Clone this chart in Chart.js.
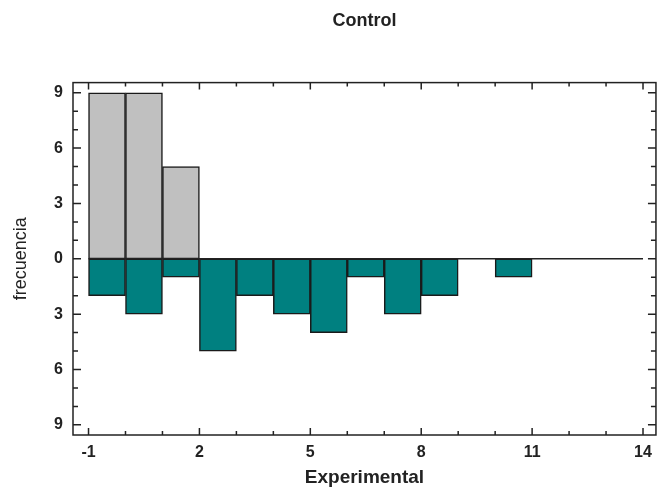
<!DOCTYPE html>
<html>
<head>
<meta charset="utf-8">
<script src="https://cdn.jsdelivr.net/npm/chart.js@4.4.0/dist/chart.umd.min.js"></script>
<style>
  body { margin: 0; background: #fff; }
  #wrap { width: 660px; height: 489px; }
</style>
</head>
<body>
<div id="wrap"><canvas id="myChart"></canvas></div>
<script>
// Histograma de dos lados: Control arriba, Experimental abajo
var binStarts = [-1, 0, 1, 2, 3, 4, 5, 6, 7, 8, 9, 10, 11, 12, 13];
var control = [9, 9, 5, 0, 0, 0, 0, 0, 0, 0, 0, 0, 0, 0, 0];
var experimental = [2, 3, 1, 5, 2, 3, 4, 1, 3, 2, 0, 1, 0, 0, 0];
var xTicks = [-1, 2, 5, 8, 11, 14];
var yTicks = [-9, -6, -3, 0, 3, 6, 9];

var FONT = 'Liberation Sans, Arial, sans-serif';
var binWidth = 1;

// puntos centrados en cada clase
var controlData = binStarts.map(function(b, i) { return { x: b + binWidth / 2, y: control[i] }; });
var expData = binStarts.map(function(b, i) { return { x: b + binWidth / 2, y: -experimental[i] }; });
var lastEdge = binStarts[binStarts.length - 1] + binWidth;
var baseline = [{ x: binStarts[0], y: 0 }, { x: lastEdge, y: 0 }];

// marco y marcas hacia dentro
var frameTicks = {
  id: 'frameTicks',
  afterDatasetsDraw: function(chart) {
    var ctx = chart.ctx, a = chart.chartArea, x = chart.scales.x, y = chart.scales.y;
    ctx.save();
    ctx.strokeStyle = '#222';
    ctx.lineWidth = 1.5;
    ctx.strokeRect(a.left, a.top, a.right - a.left, a.bottom - a.top);
    ctx.beginPath();
    for (var v = -9; v <= 9; v++) {
      var py = y.getPixelForValue(v);
      var len = v % 3 === 0 ? 8 : 5;
      ctx.moveTo(a.left, py); ctx.lineTo(a.left + len, py);
      ctx.moveTo(a.right, py); ctx.lineTo(a.right - len, py);
    }
    for (var u = -1; u <= 14; u++) {
      var px = x.getPixelForValue(u);
      var l2 = (u + 1) % 3 === 0 ? 7 : 4;
      ctx.moveTo(px, a.bottom); ctx.lineTo(px, a.bottom - l2);
      ctx.moveTo(px, a.top); ctx.lineTo(px, a.top + l2);
    }
    ctx.stroke();
    ctx.restore();
  }
};

var ctx = document.getElementById('myChart').getContext('2d');
var chart = new Chart(ctx, {
  type: 'bar',
  data: {
    datasets: [{
      type: 'line',
      label: 'base',
      data: baseline,
      borderColor: '#222',
      borderWidth: 1.5,
      pointRadius: 0
    }, {
      label: 'Control',
      data: controlData,
      backgroundColor: '#c0c0c0',
      borderColor: '#1a1a1a',
      borderWidth: 1.5,
      borderSkipped: false,
      barPercentage: 1,
      categoryPercentage: 1
    }, {
      label: 'Experimental',
      data: expData,
      backgroundColor: '#008080',
      borderColor: '#1a1a1a',
      borderWidth: 1.5,
      borderSkipped: false,
      barPercentage: 1,
      categoryPercentage: 1
    }]
  },
  options: {
    responsive: true,
    maintainAspectRatio: false,
    animation: false,
    layout: { padding: { left: 0, right: 2, top: 0, bottom: 0 } },
    plugins: {
      legend: { display: false },
      tooltip: { enabled: false },
      title: {
        display: true,
        text: 'Control',
        fullSize: false,
        color: '#222',
        font: { family: FONT, size: 18, weight: 'bold' },
        padding: { top: 10, bottom: 51 }
      }
    },
    scales: {
      x: {
        type: 'linear',
        min: -1.42,
        max: 14.35,
        offset: false,
        stacked: true,
        grid: { display: false, drawTicks: false },
        border: { display: false },
        afterBuildTicks: function(scale) {
          scale.ticks = xTicks.map(function(v) { return { value: v }; });
        },
        afterFit: function(scale) { scale.height = 54; },
        ticks: {
          autoSkip: false,
          maxRotation: 0,
          padding: 8,
          color: '#222',
          font: { family: FONT, size: 16, weight: 'bold' }
        },
        title: {
          display: true,
          text: 'Experimental',
          color: '#222',
          padding: { top: 0, bottom: 0 },
          font: { family: FONT, size: 19, weight: 'bold' }
        }
      },
      y: {
        min: -9.55,
        max: 9.55,
        stacked: true,
        grid: { display: false, drawTicks: false },
        border: { display: false },
        afterBuildTicks: function(scale) {
          scale.ticks = yTicks.map(function(v) { return { value: v }; });
        },
        afterFit: function(scale) { scale.width = 73; },
        ticks: {
          padding: 10,
          color: '#222',
          font: { family: FONT, size: 16, weight: 'bold' },
          callback: function(value) { return Math.abs(value); }
        },
        title: {
          display: true,
          text: 'frecuencia',
          color: '#222',
          padding: { top: 10, bottom: 0 },
          font: { family: FONT, size: 18 }
        }
      }
    }
  },
  plugins: [frameTicks]
});
</script>
</body>
</html>
